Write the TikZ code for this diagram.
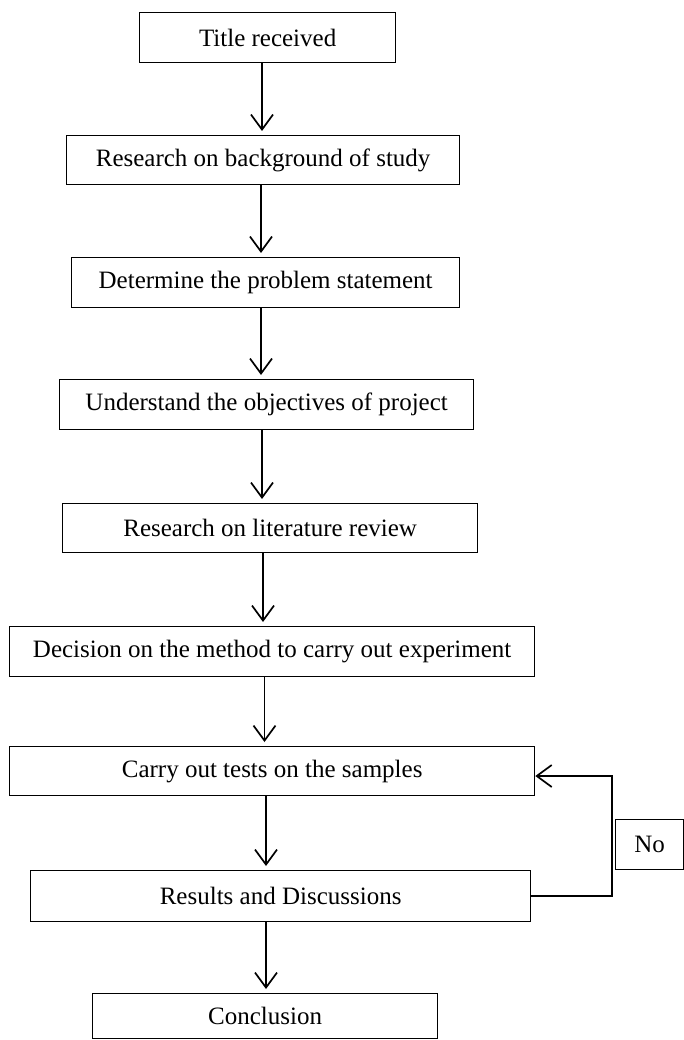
\documentclass[tikz,border=0pt]{standalone}
\usepackage{fontspec}
\setmainfont{Liberation Serif}
\usetikzlibrary{arrows.meta}
\begin{document}
\begin{tikzpicture}[x=1pt,y=-1pt,
  box/.style={draw, line width=1.3pt, inner sep=0pt, anchor=north west,
    font=\fontsize{25}{30}\selectfont},
  arr/.style={line width=1.7pt,
    -{Straight Barb[length=15pt,width=22pt,line width=1.7pt]}}]
\useasboundingbox (0,0) rectangle (684,1040);
% boxes
\node[box, minimum width=256pt, minimum height=50pt] (b1) at (139,12) {Title received};
\node[box, minimum width=393pt, minimum height=49pt] (b2) at (66,135) {Research on background of study};
\node[box, minimum width=388pt, minimum height=50pt] (b3) at (71,257) {Determine the problem statement};
\node[box, minimum width=414pt, minimum height=50pt] (b4) at (59,379) {Understand the objectives of project};
\node[box, minimum width=415pt, minimum height=49pt] (b5) at (62,503) {Research on literature review};
\node[box, minimum width=525pt, minimum height=50pt] (b6) at (9,626) {Decision on the method to carry out experiment};
\node[box, minimum width=525pt, minimum height=49pt] (b7) at (9,746) {Carry out tests on the samples};
\node[box, minimum width=500pt, minimum height=51pt] (b8) at (30,870) {Results and Discussions};
\node[box, minimum width=345pt, minimum height=45pt] (b9) at (92,993) {Conclusion};
\node[box, minimum width=68pt, minimum height=50pt] (no) at (615,819) {No};
% arrow x positions
\coordinate (x1) at (262,0);
\coordinate (x2) at (261,0);
\coordinate (x3) at (261,0);
\coordinate (x4) at (262,0);
\coordinate (x5) at (263,0);
\coordinate (x6) at (264.5,0);
\coordinate (x7) at (266,0);
\coordinate (x8) at (266,0);
\draw[arr, shorten >=4pt] (b1.south -| x1) -- (b2.north -| x1);
\draw[arr, shorten >=4pt] (b2.south -| x2) -- (b3.north -| x2);
\draw[arr, shorten >=4pt] (b3.south -| x3) -- (b4.north -| x3);
\draw[arr, shorten >=4pt] (b4.south -| x4) -- (b5.north -| x4);
\draw[arr, shorten >=4pt] (b5.south -| x5) -- (b6.north -| x5);
\draw[arr, shorten >=4pt] (b6.south -| x6) -- (b7.north -| x6);
\draw[arr, shorten >=4pt] (b7.south -| x7) -- (b8.north -| x7);
\draw[arr, shorten >=4pt] (b8.south -| x8) -- (b9.north -| x8);
% feedback loop
\coordinate (fb) at (612,776);
\draw[arr] (b8.east) -| (fb) -- (b7.east |- fb);
\end{tikzpicture}
\end{document}
